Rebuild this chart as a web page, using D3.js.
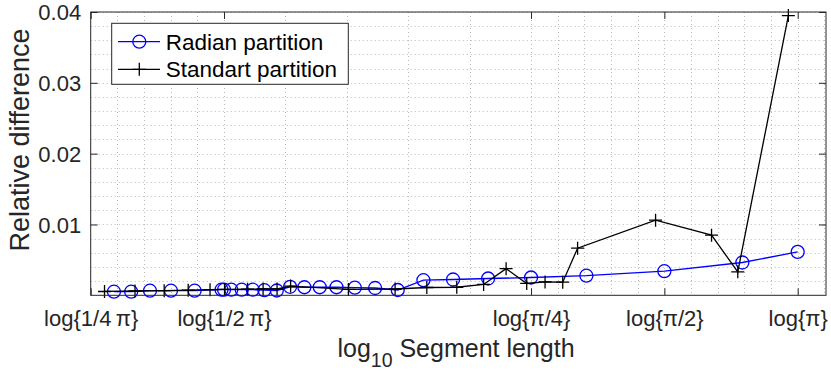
<!DOCTYPE html>
<html>
<head>
<meta charset="utf-8">
<script src="https://cdn.jsdelivr.net/npm/d3@7/dist/d3.min.js"></script>
<style>
  html, body { margin: 0; padding: 0; background: #fff; }
  svg { display: block; font-family: "Liberation Sans", Arial, Helvetica, sans-serif; }
</style>
</head>
<body>
<svg id="chart" width="831" height="371"></svg>
<script>
// Segment lengths (radians) and relative differences for each partition
const radianLength = [0.0898, 0.0982, 0.1083, 0.1208, 0.1366, 0.1571, 0.1592, 0.1653, 0.1745,
  0.1848, 0.1963, 0.2094, 0.2244, 0.2417, 0.2618, 0.2856, 0.3142, 0.3491, 0.3927, 0.4488,
  0.5236, 0.6283, 0.7854, 1.0472, 1.5708, 2.3562, 3.1416];
const radianDiff = [0.00051, 0.00051, 0.00065, 0.00065, 0.00065, 0.00079, 0.00079, 0.00079, 0.00079,
  0.00079, 0.00072, 0.00068, 0.00120, 0.00114, 0.00114, 0.00114, 0.00107, 0.00103, 0.00075, 0.00213,
  0.00223, 0.00237, 0.00251, 0.00277, 0.00340, 0.00463, 0.00613];

const standardLength = [0.0855, 0.1002, 0.1166, 0.1321, 0.1480, 0.1596, 0.1799, 0.1950, 0.2097,
  0.2250, 0.3039, 0.3874, 0.4568, 0.5338, 0.6138, 0.6899, 0.7679, 0.8448, 0.9261, 1.0005,
  1.5007, 2.0075, 2.3009, 2.993];
const standardDiff = [0.00054, 0.00061, 0.00065, 0.00072, 0.00079, 0.00083, 0.00086, 0.00089, 0.00089,
  0.00130, 0.00083, 0.00089, 0.00110, 0.00114, 0.00153, 0.00376, 0.00167, 0.00189, 0.00185, 0.00665,
  0.01061, 0.00849, 0.00331, 0.03950];

// Axis ticks
const xTickValues = [1 / (4 * Math.PI), 1 / (2 * Math.PI), Math.PI / 4, Math.PI / 2, Math.PI];
const xTickLabels = ["log{1/4\u2009π}", "log{1/2\u2009π}", "log{π/4}", "log{π/2}", "log{π}"];
const yTickValues = [0.01, 0.02, 0.03, 0.04];
const yTickLabels = ["0.01", "0.02", "0.03", "0.04"];
const xDomain = [1 / (4 * Math.PI), 3.64];
const yDomain = [0, 0.04];

const seriesNames = ["Radian partition", "Standart partition"];

const svg = d3.select("#chart");
const plot = { left: 90.7, right: 826, top: 12, bottom: 295.3 };

const x = d3.scaleLog().domain(xDomain).range([plot.left, plot.right]);
const y = d3.scaleLinear().domain(yDomain).range([plot.bottom, plot.top]);

const axisColor = "#262626";
const gridColor = "#b8b8b8";

// Minor grid: five equal log-steps between consecutive major ticks
const lx = xTickValues.map(Math.log10);
const xGrid = [];
for (let i = 0; i < lx.length - 1; i++) {
  for (let k = 0; k < 5; k++) xGrid.push(lx[i] + (lx[i + 1] - lx[i]) * k / 5);
}
const lastStep = (lx[lx.length - 1] - lx[lx.length - 2]) / 5;
for (let v = lx[lx.length - 1]; v <= Math.log10(xDomain[1]) + 1e-9; v += lastStep) xGrid.push(v);
const yGrid = d3.range(0.002, 0.0401, 0.002);

const grid = svg.append("g").attr("stroke", gridColor).attr("stroke-width", 1)
  .attr("stroke-dasharray", "1,3");
grid.selectAll("line.gx").data(xGrid.slice(1)).join("line")
  .attr("x1", d => Math.round(x(Math.pow(10, d))) + 0.5)
  .attr("x2", d => Math.round(x(Math.pow(10, d))) + 0.5)
  .attr("y1", plot.top).attr("y2", plot.bottom);
grid.selectAll("line.gy").data(yGrid).join("line")
  .attr("y1", d => Math.round(y(d)) + 0.5)
  .attr("y2", d => Math.round(y(d)) + 0.5)
  .attr("x1", plot.left).attr("x2", plot.right);

// Axes with inward ticks on all four sides
const tickLen = 7;
const fontTick = 22;
const axisB = d3.axisBottom(x).tickValues(xTickValues).tickFormat((d, i) => xTickLabels[i])
  .tickSizeInner(-tickLen).tickSizeOuter(0).tickPadding(16);
const gB = svg.append("g").attr("transform", `translate(0,${plot.bottom})`).call(axisB);
const axisT = d3.axisTop(x).tickValues(xTickValues).tickFormat("")
  .tickSizeInner(-tickLen).tickSizeOuter(0);
const gT = svg.append("g").attr("transform", `translate(0,${plot.top})`).call(axisT);
const axisL = d3.axisLeft(y).tickValues(yTickValues).tickFormat((d, i) => yTickLabels[i])
  .tickSizeInner(-tickLen).tickSizeOuter(0).tickPadding(16);
const gL = svg.append("g").attr("transform", `translate(${plot.left},0)`).call(axisL);
const axisR = d3.axisRight(y).tickValues(yTickValues).tickFormat("")
  .tickSizeInner(-tickLen).tickSizeOuter(0);
const gR = svg.append("g").attr("transform", `translate(${plot.right},0)`).call(axisR);

[gB, gT, gL, gR].forEach(g => {
  g.select(".domain").remove();
  g.selectAll(".tick line").attr("stroke", axisColor).attr("stroke-width", 1);
  g.selectAll("text").attr("fill", axisColor).attr("font-size", fontTick)
    .attr("font-family", "Liberation Sans, Arial, sans-serif");
});
gB.selectAll(".tick text").attr("dy", null).attr("y", 0)
  .attr("transform", "translate(0,31)");
gL.selectAll(".tick text").attr("dy", "0.36em").attr("x", -9.5);

// Data lines and markers
const pts1 = radianLength.map((d, i) => [x(d), y(radianDiff[i])]);
const pts2 = standardLength.map((d, i) => [x(d), y(standardDiff[i])]);
const line = d3.line();
const blue = "#0000ff";

svg.append("path").attr("d", line(pts1)).attr("fill", "none")
  .attr("stroke", blue).attr("stroke-width", 1.3);
svg.append("g").selectAll("circle").data(pts1).join("circle")
  .attr("cx", d => d[0]).attr("cy", d => d[1]).attr("r", 6.5)
  .attr("fill", "none").attr("stroke", blue).attr("stroke-width", 1.3);

const plusPath = (cx, cy, s) => `M${cx - s},${cy}H${cx + s}M${cx},${cy - s}V${cy + s}`;
svg.append("path").attr("d", line(pts2)).attr("fill", "none")
  .attr("stroke", "#000").attr("stroke-width", 1.3);
svg.append("path").attr("d", pts2.map(p => plusPath(p[0], p[1], 6.5)).join(""))
  .attr("fill", "none").attr("stroke", "#000").attr("stroke-width", 1.3);

// Box around the axes
svg.append("rect").attr("x", plot.left).attr("y", plot.top)
  .attr("width", plot.right - plot.left).attr("height", plot.bottom - plot.top)
  .attr("fill", "none").attr("stroke", axisColor).attr("stroke-width", 1);

// Legend
const lg = svg.append("g");
lg.append("rect").attr("x", 111.7).attr("y", 23.3).attr("width", 236.6).attr("height", 61)
  .attr("fill", "#fff").attr("stroke", axisColor).attr("stroke-width", 1);
const rows = [41.7, 69.3];
rows.forEach((ry, i) => {
  const col = i === 0 ? blue : "#000";
  lg.append("line").attr("x1", 118).attr("x2", 160).attr("y1", ry).attr("y2", ry)
    .attr("stroke", col).attr("stroke-width", 1.3);
  if (i === 0) {
    lg.append("circle").attr("cx", 139.3).attr("cy", ry).attr("r", 6.5)
      .attr("fill", "none").attr("stroke", col).attr("stroke-width", 1.3);
  } else {
    lg.append("path").attr("d", plusPath(139.3, ry, 6.5))
      .attr("stroke", col).attr("stroke-width", 1.3);
  }
  lg.append("text").attr("x", 165.7).attr("y", ry).attr("dy", "0.36em")
    .attr("font-size", 22.5).attr("fill", "#000").text(seriesNames[i]);
});

// Axis titles
const xt = svg.append("text").attr("x", 456).attr("y", 357).attr("text-anchor", "middle")
  .attr("font-size", 25).attr("fill", axisColor);
xt.append("tspan").text("log");
xt.append("tspan").attr("font-size", 19.5).attr("dy", 10).text("10");
xt.append("tspan").attr("dy", -10).text(" Segment length");

svg.append("text").attr("transform", "translate(29,140) rotate(-90)")
  .attr("text-anchor", "middle").attr("font-size", 27).attr("fill", axisColor)
  .text("Relative difference");
</script>
</body>
</html>
